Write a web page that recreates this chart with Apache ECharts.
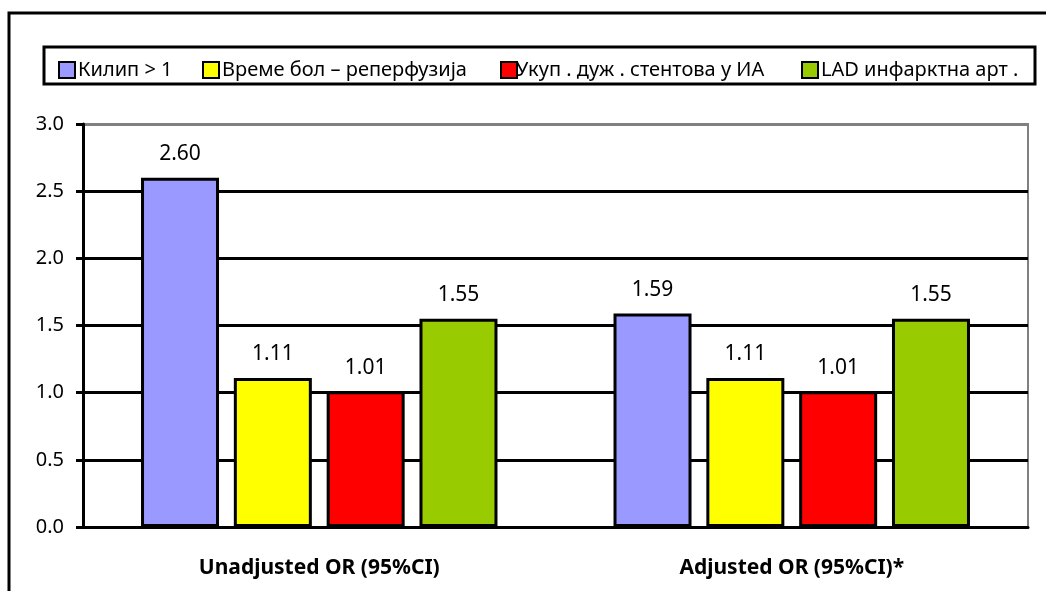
<!DOCTYPE html>
<html><head><meta charset="utf-8">
<script src="https://cdn.jsdelivr.net/npm/echarts@6/dist/echarts.min.js"></script>
<style>html,body{margin:0;padding:0;background:#fff}#c{width:1046px;height:591px}</style>
</head><body><div id="c"></div>
<script>
const categories = ['Unadjusted OR (95%CI)', 'Adjusted OR (95%CI)*'];
const seriesNames = ['Килип > 1', 'Време бол – реперфузија', 'Укуп . дуж . стентова у ИА', 'LAD инфарктна арт .'];
const kilip = [2.60, 1.59];
const vreme = [1.11, 1.11];
const ukup = [1.01, 1.01];
const lad = [1.55, 1.55];
const colors = ['#9999ff', '#ffff00', '#ff0000', '#99cc00'];
const values = [kilip, vreme, ukup, lad];
const legendLeft = [53, 197, 495, 796];
const font = '"Noto Sans", sans-serif';
const chart = echarts.init(document.getElementById('c'));
chart.setOption({
  animation: false,
  backgroundColor: '#fff',
  graphic: [
    {type: 'rect', shape: {x: 9, y: 13, width: 1060, height: 600}, style: {fill: 'none', stroke: '#000', lineWidth: 3}, z: -1},
    {type: 'rect', shape: {x: 44, y: 47, width: 991, height: 37}, style: {fill: 'none', stroke: '#000', lineWidth: 3}, z: -1}
  ],
  legend: seriesNames.map((n, i) => ({
    left: legendLeft[i], top: 55, itemWidth: 16, itemHeight: 16, itemGap: 0,
    textStyle: {fontFamily: font, fontSize: 20, color: '#000', padding: [0, 0, 0, i === 2 ? -6 : -2]},
    data: [{name: n, icon: 'rect', itemStyle: {borderColor: '#000', borderWidth: 2}}]
  })),
  grid: {left: 83, right: 18, top: 124, bottom: 64, show: true, borderColor: '#808080', borderWidth: 2},
  xAxis: {
    type: 'category', data: categories,
    axisLine: {lineStyle: {color: '#000', width: 3}},
    axisTick: {show: false},
    axisLabel: {fontFamily: font, fontSize: 21, fontWeight: 'bold', color: '#000', margin: 31}
  },
  yAxis: {
    type: 'value', min: 0, max: 3, interval: 0.5,
    axisLine: {show: true, lineStyle: {color: '#000', width: 3}},
    axisTick: {show: true, length: 7, lineStyle: {color: '#000', width: 3}},
    axisLabel: {fontFamily: font, fontSize: 20, color: '#000', margin: 19, formatter: v => v.toFixed(1)},
    splitLine: {show: true, lineStyle: {color: ['#000', '#000', '#000', '#000', '#000', '#000', '#808080'], width: 3}}
  },
  series: values.map((d, i) => ({
    name: seriesNames[i], type: 'bar', data: d, barWidth: 78, barGap: '19%',
    itemStyle: {color: colors[i], borderColor: '#000', borderWidth: 3},
    label: {show: true, position: 'top', distance: 13, fontFamily: font, fontSize: 21, color: '#000', formatter: p => p.value.toFixed(2)}
  }))
});
</script></body></html>
